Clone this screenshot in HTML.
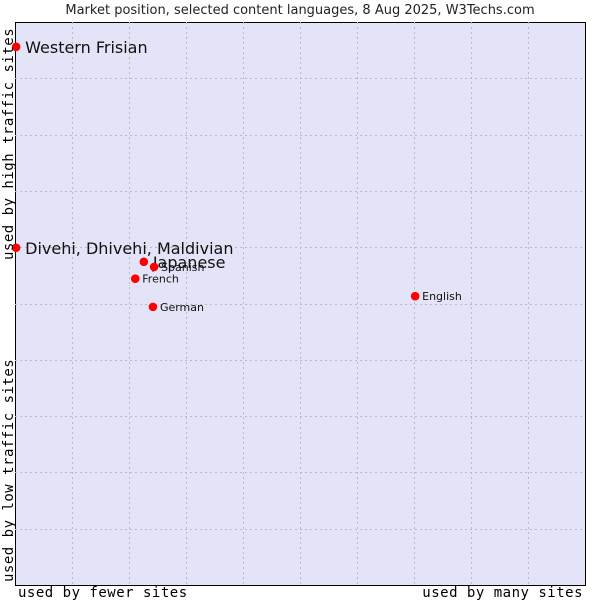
<!DOCTYPE html>
<html><head><meta charset="utf-8"><style>
body{margin:0;background:#fff;width:600px;height:600px;overflow:hidden}
svg text{font-family:"DejaVu Sans","Liberation Sans",sans-serif}
.mono{font-family:"DejaVu Sans Mono","Liberation Mono",monospace !important;letter-spacing:0.5px}
</style></head><body>
<svg id="chart" width="600" height="600">
<text x="300" y="14" text-anchor="middle" font-size="13" fill="#222">Market position, selected content languages, 8 Aug 2025, W3Techs.com</text>
<rect x="15.5" y="22.5" width="570" height="563" fill="#e4e4f8" stroke="#000"/>
<g id="grid"></g>
<g id="points"></g>
<text class="mono" x="18" y="597" font-size="14" fill="#000">used by fewer sites</text>
<text class="mono" x="583" y="597" font-size="14" text-anchor="end" fill="#000">used by many sites</text>
<text class="mono" transform="translate(13,582) rotate(-90)" font-size="14" fill="#000">used by low traffic sites</text>
<text class="mono" transform="translate(13,260) rotate(-90)" font-size="14" fill="#000">used by high traffic sites</text>
</svg>
<script>
const languages=["Western Frisian","Divehi, Dhivehi, Maldivian","Japanese","Spanish","French","German","English"];
const usage=[0.2,0.2,22.6,24.4,21.1,24.2,70.2];
const traffic=[95.6,59.9,57.4,56.5,54.4,49.4,51.3];
const bigLabel=[true,true,true,false,false,false,false];
const L=15,T=22,W=570,H=563;
const xs=v=>L+v/100*W, ys=v=>T+H-v/100*H;
const ns="http://www.w3.org/2000/svg";
const grid=document.getElementById('grid');
for(let i=1;i<10;i++){
 const a=document.createElementNS(ns,'line');
 
 
 const x=Math.round(xs(i*10))+0.5;
 a.setAttribute('x1',x);a.setAttribute('x2',x);a.setAttribute('y1',T);a.setAttribute('y2',T+H);
 a.setAttribute('stroke','#bbb');a.setAttribute('stroke-dasharray','2,3');grid.appendChild(a);
 const b=document.createElementNS(ns,'line');
 
 
 const y=Math.round(ys(i*10))+0.5;
 b.setAttribute('x1',L);b.setAttribute('x2',L+W);b.setAttribute('y1',y);b.setAttribute('y2',y);
 b.setAttribute('stroke','#bbb');b.setAttribute('stroke-dasharray','2,3');grid.appendChild(b);
}
const pts=document.getElementById('points');
languages.forEach((n,i)=>{
 const x=xs(usage[i]),y=ys(traffic[i]);
 const d=document.createElementNS(ns,'circle');
 
 
 d.setAttribute('cx',x);d.setAttribute('cy',y);d.setAttribute('r',4.3);
 d.setAttribute('fill','#f00');pts.appendChild(d);
 const t=document.createElementNS(ns,'text');
 
 
 t.setAttribute('x',x+(bigLabel[i]?9:7));t.setAttribute('y',y+(bigLabel[i]?6:4));
 t.setAttribute('font-size',bigLabel[i]?16:11);t.setAttribute('fill','#111');
 t.textContent=n;pts.appendChild(t);
});
</script>
</body></html>
